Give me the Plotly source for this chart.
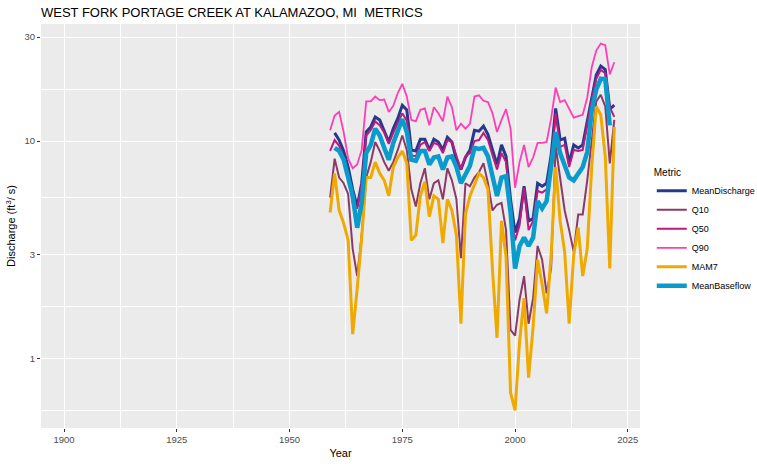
import plotly.graph_objects as go

# Years (Q-metrics start one year earlier than the means)
years_q = list(range(1959, 2023))
years_mean = list(range(1960, 2023))
years_base = list(range(1960, 2022))

# Values (ft3/s)
mean_discharge = [10.9, 10.1, 9.0, 7.6, 6.0, 5.0, 6.4, 11.0, 11.6, 12.9,
                  12.5, 11.0, 9.9, 11.4, 12.7, 14.6, 13.9, 9.1, 9.0, 10.2,
                  10.2, 9.1, 10.2, 9.9, 9.1, 10.4, 9.9, 8.2, 7.4, 8.4,
                  9.1, 11.2, 11.1, 11.7, 10.7, 9.1, 7.8, 9.6, 8.5, 5.4,
                  3.8, 4.4, 6.2, 4.3, 4.4, 6.4, 6.2, 6.4, 8.6, 14.1,
                  10.1, 10.3, 7.9, 9.6, 9.3, 9.6, 12.3, 16.2, 20.1, 22.1,
                  21.3, 14.0, 14.6]

q10 = [5.5, 8.3, 6.8, 6.4, 5.7, 3.2, 2.4, 3.7, 6.8, 8.0,
       9.9, 9.0, 8.0, 7.3, 8.0, 9.1, 10.6, 9.1, 6.0, 5.0,
       6.4, 7.5, 5.4, 6.4, 6.6, 5.4, 7.5, 6.6, 5.4, 2.9,
       6.4, 6.2, 6.8, 7.2, 7.9, 6.4, 4.8, 5.1, 5.2, 3.9,
       1.36, 1.28, 1.87, 2.4, 1.45, 1.9, 3.3, 2.85, 2.0, 2.6,
       9.5, 6.6, 4.8, 3.9, 3.1, 4.6, 4.6, 6.6, 10.0, 15.2,
       16.3, 14.4, 7.9, 12.5]

q50 = [9.0, 10.1, 9.5, 8.4, 7.1, 5.2, 4.9, 6.3, 10.6, 11.2,
       12.3, 11.8, 10.9, 9.7, 10.9, 12.0, 13.4, 12.4, 8.6, 8.5,
       9.6, 9.9, 9.0, 9.8, 9.6, 8.8, 10.1, 9.9, 8.5, 7.4,
       8.5, 8.8, 10.0, 10.1, 10.9, 10.1, 8.6, 7.4, 8.8, 8.0,
       4.8, 3.5, 4.1, 6.1, 3.9, 4.3, 5.9, 5.8, 6.0, 7.9,
       13.4, 9.4, 9.6, 7.6, 9.1, 9.0, 9.1, 12.0, 15.5, 19.3,
       21.2, 20.5, 14.3, 12.9]

q90 = [11.2, 13.1, 13.6, 11.0, 8.3, 7.5, 7.8, 9.1, 15.2, 15.2,
       16.0, 15.4, 15.5, 13.6, 14.5, 16.6, 18.3, 16.0, 12.5, 12.3,
       13.9, 14.1, 11.8, 14.3, 13.4, 12.3, 16.0, 14.3, 11.2, 12.0,
       11.4, 12.0, 16.0, 16.2, 15.3, 15.1, 13.4, 11.0, 12.5, 14.0,
       11.4, 6.1, 8.0, 9.6, 7.6, 8.4, 9.8, 9.8, 9.9, 12.7,
       17.6, 15.1, 15.4, 14.1, 12.8, 13.0, 13.2, 15.8, 21.8, 26.0,
       28.0, 27.5, 20.2, 23.0]

mam7 = [4.7, 7.1, 4.8, 4.2, 3.5, 1.3, 2.1, 3.6, 6.8, 6.8,
        8.0, 7.1, 6.6, 5.6, 7.6, 8.4, 9.0, 7.9, 3.5, 3.7,
        5.6, 6.5, 4.5, 5.6, 5.4, 3.4, 5.4, 4.8, 3.7, 1.45,
        4.6, 5.6, 6.3, 7.1, 6.8, 6.0, 2.56, 1.25, 4.3, 2.95,
        0.7, 0.58, 1.2, 1.9, 0.82, 1.4, 2.85, 2.2, 1.62, 3.0,
        7.6, 4.3, 3.1, 1.45, 3.0, 4.0, 2.4, 3.2, 7.6, 14.4,
        13.2, 8.5, 2.6, 11.6]

mean_baseflow = [9.3, 9.0, 8.2, 6.9, 5.6, 4.0, 5.2, 8.8, 9.6, 11.4,
                 10.6, 9.3, 8.2, 9.8, 11.2, 12.6, 11.0, 8.2, 8.1, 9.0,
                 9.0, 7.8, 8.4, 8.5, 7.4, 8.4, 8.5, 7.6, 6.4, 7.0,
                 7.7, 9.3, 9.2, 9.3, 8.5, 6.9, 5.6, 6.8, 6.9, 4.7,
                 2.6, 3.3, 3.6, 3.3, 3.6, 5.3, 4.9, 5.3, 7.4, 11.0,
                 8.8, 7.6, 6.8, 6.6, 7.1, 7.6, 8.9, 13.8, 17.2, 19.3,
                 19.2, 11.8]

# name, x, y, colour, width
series = [
    ("MeanDischarge", years_mean, mean_discharge, "#27398A", 3),
    ("Q10", years_q, q10, "#8B3A68", 2),
    ("Q50", years_q, q50, "#C2177F", 2),
    ("Q90", years_q, q90, "#FF3DB6", 1.8),
    ("MAM7", years_q, mam7, "#EFA900", 3),
    ("MeanBaseflow", years_base, mean_baseflow, "#0A9BCD", 4.5),
]

fig = go.Figure()
for name, x, y, col, w in series:
    fig.add_trace(go.Scatter(x=x, y=y, mode="lines", name=name,
                             line=dict(color=col, width=w)))

font_family = "Liberation Sans, Arial, sans-serif"

fig.update_layout(
    width=757, height=464,
    margin=dict(l=41, r=117, t=24, b=36),
    paper_bgcolor="white",
    plot_bgcolor="#EBEBEB",
    font=dict(family=font_family, color="black"),
    title=dict(text="WEST FORK PORTAGE CREEK AT KALAMAZOO, MI  METRICS",
               x=0, xref="paper", xanchor="left",
               y=0.973, yref="container", yanchor="middle",
               font=dict(size=13, color="black")),
    # legend placed against the page so it does not squeeze the panel
    legend=dict(title=dict(text="Metric", font=dict(size=10)),
                xref="container", yref="container",
                x=0.861, xanchor="left", y=0.648, yanchor="top",
                font=dict(size=9), bgcolor="rgba(0,0,0,0)",
                itemwidth=30, tracegroupgap=0),
    showlegend=True,
)

fig.update_xaxes(
    range=[1894.9, 2027.7],
    tickvals=[1900, 1925, 1950, 1975, 2000, 2025],
    showgrid=True, gridcolor="white", gridwidth=1.1,
    minor=dict(tickvals=[1912.5, 1937.5, 1962.5, 1987.5, 2012.5],
               showgrid=True, gridcolor="white", gridwidth=0.5, ticks=""),
    ticks="outside", ticklen=3, tickcolor="#333333",
    tickfont=dict(size=9.5, color="#4D4D4D"),
    zeroline=False, showline=False, automargin=False,
    title=dict(text="Year", font=dict(size=11), standoff=4),
)

fig.update_yaxes(
    type="log",
    range=[-0.317, 1.537],
    tickvals=[1, 3, 10, 30],
    ticktext=["1", "3", "10", "30"],
    showgrid=True, gridcolor="white", gridwidth=1.1,
    minor=dict(tickvals=[0.577, 1.732, 5.477, 17.32],
               showgrid=True, gridcolor="white", gridwidth=0.5, ticks=""),
    ticks="outside", ticklen=3, tickcolor="#333333",
    tickfont=dict(size=9.5, color="#4D4D4D"),
    zeroline=False, showline=False, automargin=False,
    title=dict(text="Discharge (ft<sup>3</sup>/ s)", font=dict(size=11), standoff=6),
)

# page body margin would shift the figure by 8px
fig.write_html("out.html", config={"displayModeBar": False},
               post_script="document.body.style.margin='0';")
